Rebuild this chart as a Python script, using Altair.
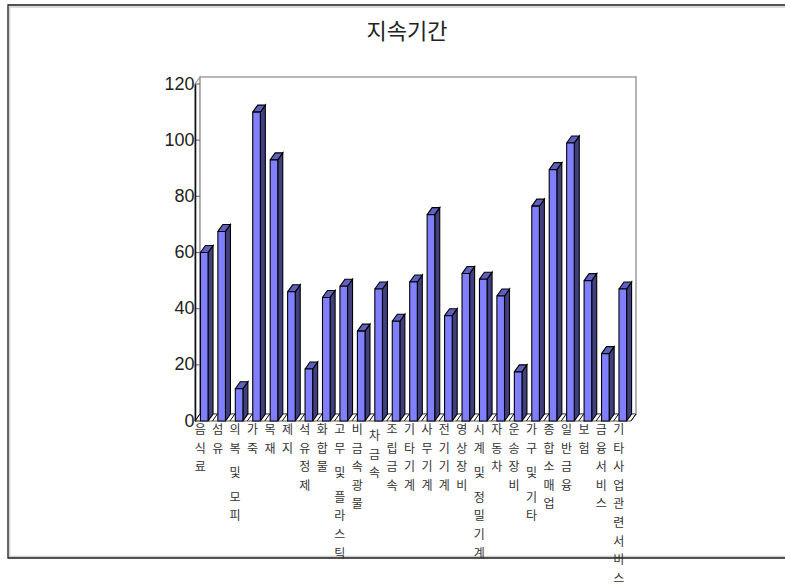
import altair as alt
import pandas as pd

categories = ["음식료", "섬유", "의복 및 모피", "가죽", "목재", "제지", "석유정제", "화합물",
              "고무 및 플라스틱", "비금속광물", " 차금속", "조립금속", "기타기계", "사무기계",
              "전기기계", "영상장비", "시계 및 정밀기계", "자동차", "운송장비", "가구 및 기타",
              "종합소매업", "일반금융", "보험", "금융서비스", "기타사업관련서비스"]
durations = [60, 67.5, 11.5, 110, 93, 46, 18.5, 44, 48, 32, 47, 35.5, 49.5, 73.5,
             37.5, 52.5, 50.5, 44.5, 17.5, 76.5, 89.5, 99, 50, 24, 47]
y_ticks = [0, 20, 40, 60, 80, 100, 120]
chart_title = "지속기간"

PLOT_W, PLOT_H = 436, 337
N = len(categories)
Y_MAX = 120
PX_X = PLOT_W / N            # pixels per category slot
PX_Y = PLOT_H / Y_MAX        # pixels per unit of duration
DX = 5 / PX_X                # depth of the 3D effect, in data units
DY = 7 / PX_Y
BAR = 7.6 / PX_X
SHIFT = 0.5 / PX_X

x_scale = alt.Scale(domain=[0, N], nice=False, zero=False)
y_scale = alt.Scale(domain=[0, Y_MAX], nice=False, zero=False)
y_axis = alt.Axis(
    title=None, values=y_ticks, grid=False, ticks=False, domain=True, zindex=1,
    domainColor="#111111", domainWidth=1.6, labelFont="Liberation Sans",
    labelFontSize=18, labelColor="#222222", labelPadding=1,
)
X = lambda f="x": alt.X(f"{f}:Q", scale=x_scale, axis=None)
Y = lambda f="y": alt.Y(f"{f}:Q", scale=y_scale, axis=y_axis)

FRONT, SIDE, TOP = "#8080ff", "#40407f", "#6060bf"
WALL = "#a0a0a0"


def polygon(rows, key):
    """Closed outline rows for one filled face."""
    out = [dict(id=key, seq=i, x=a, y=b) for i, (a, b) in enumerate(rows)]
    out.append(dict(id=key, seq=len(rows), x=rows[0][0], y=rows[0][1]))
    return out


def face(rows, fill, stroke, width=1.0):
    return alt.Chart(pd.DataFrame(rows)).mark_line(
        fill=fill, stroke=stroke, strokeWidth=width, interpolate="linear", clip=False
    ).encode(x=X(), y=Y(), detail="id:N", order="seq:Q")


fronts, sides, tops, floor_lines = [], [], [], []
for i, v in enumerate(durations):
    x0 = i + 0.5 + SHIFT - BAR / 2
    x1 = x0 + BAR
    fronts.append(dict(x=x0, x2=x1, y=0, y2=v))
    sides += polygon([(x1, 0), (x1 + DX, DY), (x1 + DX, v + DY), (x1, v)], f"s{i}")
    tops += polygon([(x0, v), (x1, v), (x1 + DX, v + DY), (x0 + DX, v + DY)], f"t{i}")
for i in range(N + 1):
    floor_lines += [dict(id=i, seq=0, x=i, y=0), dict(id=i, seq=1, x=i + DX, y=DY)]

# Vertical category labels: one character per row, a space only adds a small gap
ROW, GAP, FIRST, LABEL_SHIFT = 18.6, 6.0, 9.0, -3.5
label_rows = []
for i, name in enumerate(categories):
    offset = FIRST
    for ch in name:
        if ch == " ":
            offset += GAP
            continue
        label_rows.append(dict(x=i + 0.5 + LABEL_SHIFT / PX_X, y=-offset / PX_Y, ch=ch))
        offset += ROW

# Outer frame around the whole figure
frame_shadow = alt.Chart(pd.DataFrame({"a": [0]})).mark_rect(
    fill="transparent", stroke="#cfcfcf", strokeWidth=1.5
).encode(x=alt.value(-185.5), x2=alt.value(640), y=alt.value(-77), y2=alt.value(472.5))
frame = alt.Chart(pd.DataFrame({"a": [0]})).mark_rect(
    fill="transparent", stroke="#1a1a1a", strokeWidth=1.3
).encode(x=alt.value(-187), x2=alt.value(640), y=alt.value(-79), y2=alt.value(474))

wall = face(polygon([(DX, DY), (N + DX, DY), (N + DX, Y_MAX + DY), (DX, Y_MAX + DY)], "wall"),
            "#ffffff", WALL, 1.6)
left_wall = face(polygon([(0, 0), (DX, DY), (DX, Y_MAX + DY), (0, Y_MAX)], "left"),
                 "#ffffff", WALL, 1.2)
floor = face(polygon([(0, 0), (N, 0), (N + DX, DY), (DX, DY)], "floor"), "#ffffff", "#555555", 1.0)
floor_ticks = alt.Chart(pd.DataFrame(floor_lines)).mark_line(
    stroke="#111111", strokeWidth=1.0
).encode(x=X(), y=Y(), detail="id:N", order="seq:Q")

wall_ticks = alt.Chart(pd.DataFrame({"y": y_ticks, "x": 0.0, "x2": DX})).mark_rule(
    stroke="#777777", strokeWidth=1.2
).encode(x=X(), x2="x2:Q", y=Y())

side_faces = face(sides, SIDE, "#000000", 1.1)
top_faces = face(tops, TOP, "#000000", 1.1)
front_faces = alt.Chart(pd.DataFrame(fronts)).mark_rect(
    fill=FRONT, stroke="#000000", strokeWidth=1.1
).encode(x=X(), x2="x2:Q", y=Y(), y2="y2:Q")

labels = alt.Chart(pd.DataFrame(label_rows)).mark_text(
    font="Noto Sans CJK KR", fontSize=12, color="#333333", baseline="middle", align="center"
).encode(x=X(), y=Y(), text="ch:N")

# Figure title, placed above the plot in data units
title_row = pd.DataFrame({"x": [(407 - 195) / PX_X], "y": [(421 - 32) / PX_Y], "t": [chart_title]})
title_text = alt.Chart(title_row).mark_text(
    font="Noto Sans CJK KR", fontSize=22, color="#222222", baseline="middle", align="center"
).encode(x=X(), y=Y(), text="t:N")

chart = alt.layer(
    frame_shadow, frame, left_wall, wall, floor, floor_ticks, wall_ticks,
    side_faces, top_faces, front_faces, labels, title_text,
).properties(
    width=PLOT_W,
    height=PLOT_H,
    padding={"left": 195, "top": 84, "right": 785 - 195 - PLOT_W, "bottom": 585 - 84 - PLOT_H},
    autosize=alt.AutoSizeParams(type="none"),
).configure_view(stroke=None)

chart.save("out.html", embed_options={"renderer": "svg", "actions": False})
